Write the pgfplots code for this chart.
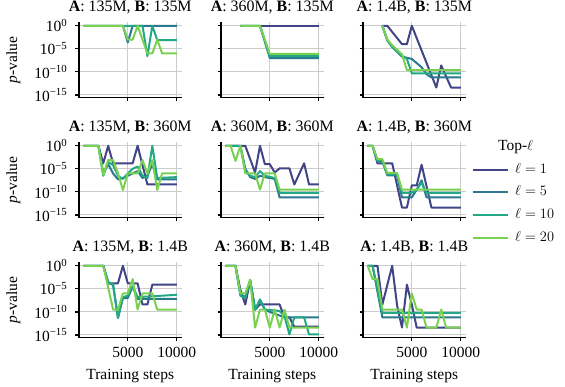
\documentclass[border=0pt]{standalone}
\usepackage{fontspec}
\setmainfont{Liberation Serif}
\usepackage{pgfplots}
\pgfplotsset{compat=1.18}
\usepgfplotslibrary{groupplots}
\definecolor{cA}{HTML}{414487}
\definecolor{cB}{HTML}{2A788E}
\definecolor{cC}{HTML}{22A884}
\definecolor{cD}{HTML}{7AD151}
\begin{document}
\begin{tikzpicture}[font=\fontsize{15.5}{18}\selectfont]
\begin{groupplot}[
  group style={group name=G, group size=3 by 3, horizontal sep=39.5pt, vertical sep=44.6pt,
    xticklabels at=edge bottom, yticklabels at=edge left, xlabels at=edge bottom, ylabels at=edge left},
  width=102.5pt, height=75.4pt, scale only axis,
  xmin=25, xmax=10475, ymin=-15.6, ymax=0.75,
  xtick={5000,10000}, xticklabels={5000,10000}, scaled x ticks=false,
  ytick={-15,-10,-5,0},
  yticklabels={10\textsuperscript{−15},10\textsuperscript{−10},10\textsuperscript{−5},10\textsuperscript{0}},
  axis lines*=left, axis line style={-, line width=1.25pt, black},
  tick align=outside, major tick length=3.5pt, tick style={line width=1.25pt, black},
  grid=major, grid style={line width=1pt, color=black!20},
  xticklabel style={anchor=north, inner sep=0pt, yshift=-6pt},
  yticklabel style={anchor=east, inner sep=0pt, xshift=-8pt},
  title style={at={(axis description cs:0.5,1)}, anchor=base, yshift=4.8pt, inner sep=0pt, font=\fontsize{15.9}{19}\selectfont},
  ylabel={\textit{p}-value},
  ylabel style={at={(axis description cs:0,0.5)}, anchor=south, inner sep=0pt, yshift=58.3pt},
  xlabel={Training steps},
  xlabel style={at={(axis description cs:0.5,0)}, anchor=base, inner sep=0pt, yshift=-41.3pt},
  no markers,
  every axis plot post/.append style={line width=2pt, line join=round},
  legend image code/.code={\draw[#1] (0pt,0pt) -- (35pt,0pt);},
]
% ---------- row 1 ----------
\nextgroupplot[title={\textbf{A}: 135M, \textbf{B}: 135M}]
\addplot[cA] coordinates {(500,0) (10000,0)};
\addplot[cB] coordinates {(500,0) (4500,0) (5000,-3.6) (5500,0) (10000,0)};
\addplot[cC] coordinates {(500,0) (6500,0) (7000,-6.6) (7500,0) (8000,-3.1) (10000,-3.1)};
\addplot[cD] coordinates {(500,0) (4500,0) (5000,-3) (5500,-3) (6000,0) (7000,-6) (7500,-6) (8000,-3) (8500,-6) (10000,-6)};

\nextgroupplot[title={\textbf{A}: 360M, \textbf{B}: 135M}]
\addplot[cA] coordinates {(2000,0) (10000,0)};
\addplot[cB] coordinates {(2000,0) (4000,0) (5000,-7.0) (10000,-7.0)};
\addplot[cC] coordinates {(2000,0) (4000,0) (5000,-6.6) (10000,-6.6)};
\addplot[cD] coordinates {(2000,0) (4000,0) (5000,-6.1) (10000,-6.1)};

\nextgroupplot[title={\textbf{A}: 1.4B, \textbf{B}: 135M}]
\addplot[cA] coordinates {(2000,0) (2500,0) (4000,-4) (4500,-4) (5000,0) (7500,-13.4) (8000,-8.6) (9000,-13.4) (10000,-13.4)};
\addplot[cB] coordinates {(2000,0) (2500,-3.2) (3000,-4.6) (4000,-6.7) (5000,-7.2) (6000,-9) (6500,-10.5) (7000,-11.2) (10000,-11.2)};
\addplot[cC] coordinates {(2000,0) (2500,-3.1) (3000,-4.5) (4000,-6.5) (4500,-7.2) (5000,-10.3) (10000,-10.3)};
\addplot[cD] coordinates {(2000,0) (2500,-3) (3000,-4.2) (4000,-6.2) (4500,-9.6) (10000,-9.6)};

% ---------- row 2 ----------
\nextgroupplot[title={\textbf{A}: 135M, \textbf{B}: 360M}]
\addplot[cA] coordinates {(500,0) (2000,0) (2500,-3.8) (3000,0) (3500,-3.8) (5500,-3.8) (6000,0) (7000,-8.4) (10000,-8.4)};
\addplot[cB] coordinates {(500,0) (2000,0) (2500,-6) (3000,-4) (3500,-6) (4000,-7.3) (4500,-7) (5000,-6.5) (6000,-5.5) (6500,-7) (7000,-6.5) (7500,-4) (8000,-7.3) (10000,-7.3)};
\addplot[cC] coordinates {(500,0) (2000,0) (2500,-6.5) (3000,-3.5) (3500,-4.2) (4000,-6.5) (4500,-7.2) (5000,-6) (5500,-5) (6000,-4.5) (6500,-6.5) (7000,-7) (7500,0) (8000,-7) (10000,-6.8)};
\addplot[cD] coordinates {(500,0) (2000,0) (2500,-6.3) (3000,-3.1) (3500,-3.1) (4000,-6) (4500,-9.6) (5000,-6) (6000,-6) (6500,-3.1) (7000,-6) (7500,-3.1) (8000,-9.6) (8500,-6) (10000,-6)};

\nextgroupplot[title={\textbf{A}: 360M, \textbf{B}: 360M}]
\addplot[cA] coordinates {(500,0) (2500,0) (3500,-5.8) (4000,0) (4500,-4) (5000,-4) (5500,-5.8) (6000,-4.9) (7000,-4.9) (7500,-8.4) (8500,-3.8) (9000,-8.4) (10000,-8.4)};
\addplot[cB] coordinates {(500,0) (2000,0) (2500,-5) (3000,-6.8) (3500,-7.2) (4000,-6.5) (4500,-6.8) (5500,-7.2) (6000,-11.2) (10000,-11.2)};
\addplot[cC] coordinates {(500,0) (2000,0) (2500,-5.5) (3000,-6.5) (3500,-6.8) (4000,-5.5) (4500,-6.5) (5500,-7) (6000,-10.2) (10000,-10.2)};
\addplot[cD] coordinates {(500,0) (1000,0) (1500,-3.3) (2000,0) (2500,-6) (3500,-6) (4000,-9.5) (4500,-6) (5500,-6) (6000,-9.5) (10000,-9.5)};

\nextgroupplot[title={\textbf{A}: 1.4B, \textbf{B}: 360M},
  legend style={at={(axis description cs:1,1)}, anchor=north west, xshift=6pt, yshift=3pt,
    draw=none, fill=none, inner sep=0pt, row sep=7.7pt,
    nodes={inner sep=0pt, text height=11pt, text depth=4pt},
    /tikz/every odd column/.append style={column sep=6.4pt}},
  legend cell align=left]
\addlegendimage{empty legend}
\addlegendentry{\makebox[0pt][c]{Top-$\ell$}}
\addplot[cA] coordinates {(500,0) (1000,0) (1500,-3.8) (3000,-3.8) (4000,-13.4) (4500,-13.4) (5000,-8.6) (5500,-8.6) (6000,-4.1) (7000,-13.4) (10000,-13.4)};
\addlegendentry{$\ell=1$}
\addplot[cB] coordinates {(500,0) (1000,0) (1500,-3.4) (2000,-3.4) (2500,-6.4) (3500,-6.4) (4000,-11.2) (5000,-11.2) (5500,-9.5) (6000,-7.5) (6500,-11.2) (10000,-11.2)};
\addlegendentry{$\ell=5$}
\addplot[cC] coordinates {(500,0) (1000,0) (1500,-3.2) (2000,-3.2) (2500,-6.2) (3500,-6.2) (4000,-10.2) (5000,-10.2) (5500,-9.5) (6000,-8) (6500,-10.2) (10000,-10.2)};
\addlegendentry{$\ell=10$}
\addplot[cD] coordinates {(500,0) (1000,0) (1500,-2.9) (2000,-2.9) (2500,-5.9) (3500,-5.9) (4000,-9.5) (10000,-9.5)};
\addlegendentry{$\ell=20$}

% ---------- row 3 ----------
\nextgroupplot[title={\textbf{A}: 135M, \textbf{B}: 1.4B}]
\addplot[cA] coordinates {(500,0) (2500,0) (3000,-3.8) (4000,-3.8) (4500,0) (5000,-3.8) (6000,-3.8) (6500,-8.4) (7000,-8.4) (7500,-4.1) (10000,-4.1)};
\addplot[cB] coordinates {(500,0) (2500,0) (3000,-3.6) (3500,-4.2) (4000,-11.3) (4500,-7) (5000,-7) (5500,-4.5) (6000,-7.2) (10000,-7.2)};
\addplot[cC] coordinates {(500,0) (2500,0) (3000,-3.5) (3500,-4) (4000,-11.3) (4500,-6.8) (5000,-6.5) (5500,-4.5) (6000,-6.8) (10000,-6.3)};
\addplot[cD] coordinates {(500,0) (2500,0) (3000,-4.7) (3500,-9.5) (4000,-9.5) (4500,-6) (5000,-6) (5500,-2.9) (6000,-9.5) (6500,-6) (7500,-6) (8000,-9.5) (10000,-9.5)};

\nextgroupplot[title={\textbf{A}: 360M, \textbf{B}: 1.4B}]
\addplot[cA] coordinates {(500,0) (1500,0) (2000,-5.2) (2500,-8.4) (3000,-3.2) (3500,-9.5) (4000,-8.4) (6000,-8.4) (6500,-11.2) (7000,-11.2) (7500,-13.2) (10000,-13.2)};
\addplot[cB] coordinates {(500,0) (1500,0) (2000,-6.2) (2500,-6.8) (3000,-3.2) (3500,-9.5) (4000,-7.5) (4500,-9.5) (5000,-10) (6500,-11.2) (10000,-11.2)};
\addplot[cC] coordinates {(500,0) (1500,0) (2000,-6.5) (2500,-7) (3000,-3.1) (3500,-9.5) (4000,-7.3) (4500,-9.5) (6000,-9.8) (6500,-11) (7000,-14.9) (7500,-11.2) (8500,-11.2) (9000,-14.9) (10000,-14.9)};
\addplot[cD] coordinates {(500,0) (1500,0) (2000,-6) (2500,-6) (3000,-3) (3500,-13.4) (4000,-9.5) (4500,-9.5) (5000,-13.4) (5500,-9.5) (6000,-13.4) (6500,-9.5) (7000,-13.4) (10000,-13.4)};

\nextgroupplot[title={\textbf{A}: 1.4B, \textbf{B}: 1.4B}]
\addplot[cA] coordinates {(500,0) (1500,0) (2000,-8.4) (3000,0) (3500,-8.6) (4000,-13.4) (4500,-4.1) (5000,-8.4) (5500,-13.4) (10000,-13.4)};
\addplot[cB] coordinates {(500,0) (1000,0) (2000,-11.2) (10000,-11.2)};
\addplot[cC] coordinates {(500,0) (1000,0) (2000,-10.2) (10000,-10.2)};
\addplot[cD] coordinates {(500,0) (1000,-2.9) (1500,-2.9) (2000,-9.5) (4000,-9.5) (4500,-13.4) (5000,-6) (5500,-9.5) (6000,-9.5) (6500,-13.4) (7500,-13.4) (8000,-9.5) (8500,-13.4) (10000,-13.4)};
\end{groupplot}
\pgfresetboundingbox
\path[use as bounding box] ([xshift=-79pt,yshift=22.3pt]G c1r1.north west) rectangle ++(565pt,-387pt);
\end{tikzpicture}
\end{document}
